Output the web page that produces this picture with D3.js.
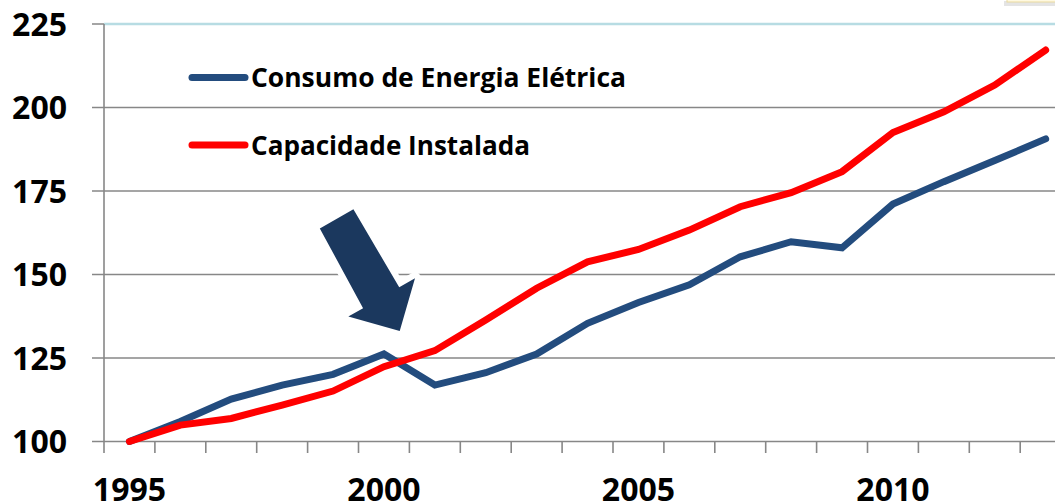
<!DOCTYPE html>
<html>
<head>
<meta charset="utf-8">
<script src="https://cdn.jsdelivr.net/npm/d3@7"></script>
<style>
  body { margin: 0; background: #fff; }
  svg { display: block; font-family: "Open Sans", sans-serif; font-weight: bold; }
</style>
</head>
<body>
<svg id="chart" width="1055" height="503"></svg>
<script>
var years = d3.range(1995, 2014)
var consumo = [100, 106, 112.7, 116.9, 120.1, 126.2, 116.9, 120.6, 126.2, 135.4, 141.6, 146.9, 155.3, 159.8, 158.0, 171.1, 177.8, 184.1, 190.6]
var capacidade = [100, 104.9, 106.9, 110.9, 115.1, 122.4, 127.2, 136.4, 145.9, 153.8, 157.5, 163.3, 170.3, 174.5, 180.8, 192.5, 198.7, 206.7, 217.2]
var yTicks = [100, 125, 150, 175, 200, 225]
var xLabels = [1995, 2000, 2005, 2010]
var seriesNames = ["Consumo de Energia Elétrica", "Capacidade Instalada"]
// arrow outline, in (year, value) units
var arrowPts = [[1998.74, 163.8], [1999.40, 169.5], [2000.30, 146.2], [2000.61, 148.9],
                [2000.31, 133.1], [1999.30, 137.4], [1999.59, 139.9]]

var dimensions = {
    width: 1055,
    height: 503,
    left: 104,
    step: 50.9
}

var svg = d3.select("#chart")

var xScale = d3.scaleLinear()
    .domain([1994.5, 2013.5])
    .range([dimensions.left, dimensions.left + 19 * dimensions.step])

var yScale = d3.scaleLinear()
    .domain([100, 225])
    .range([441.5, 24])

// small cropped box in the corner
svg.append("rect").attr("x", 1004).attr("y", 1).attr("width", 60).attr("height", 5)
    .attr("fill", "#e4e4e4")
svg.append("rect").attr("x", 1007).attr("y", -6).attr("width", 60).attr("height", 8)
    .attr("fill", "#fff9e0").attr("stroke", "#e8d9a0").attr("stroke-width", 1)

// gridlines + left ticks
svg.append("g")
    .selectAll("line")
    .data(yTicks)
    .enter()
    .append("line")
    .attr("x1", 92)
    .attr("x2", dimensions.width)
    .attr("y1", d => yScale(d))
    .attr("y2", d => yScale(d))
    .attr("stroke", "#878787")
    .attr("stroke-width", 1.6)

// light blue plot border on top
svg.append("line")
    .attr("x1", dimensions.left).attr("x2", dimensions.width)
    .attr("y1", yScale(225)).attr("y2", yScale(225))
    .attr("stroke", "#b7dce3").attr("stroke-width", 2.6)

// y axis line
svg.append("line")
    .attr("x1", dimensions.left).attr("x2", dimensions.left)
    .attr("y1", yScale(225)).attr("y2", 453)
    .attr("stroke", "#878787").attr("stroke-width", 1.6)

// x ticks at category boundaries
svg.append("g")
    .selectAll("line")
    .data(years.slice(1).concat([2014]))
    .enter()
    .append("line")
    .attr("x1", d => xScale(d - 0.5))
    .attr("x2", d => xScale(d - 0.5))
    .attr("y1", yScale(100))
    .attr("y2", 453)
    .attr("stroke", "#878787")
    .attr("stroke-width", 1.6)

// y labels
svg.append("g")
    .selectAll("text")
    .data(yTicks)
    .enter()
    .append("text")
    .attr("x", 67)
    .attr("y", d => yScale(d) + 11.5)
    .attr("text-anchor", "end")
    .attr("font-size", 32)
    .attr("fill", "#000")
    .text(d => d)

// x labels
svg.append("g")
    .selectAll("text")
    .data(xLabels)
    .enter()
    .append("text")
    .attr("x", d => xScale(d))
    .attr("y", 501)
    .attr("text-anchor", "middle")
    .attr("font-size", 32)
    .attr("fill", "#000")
    .text(d => d)

var line = d3.line()
    .x((d, i) => xScale(years[i]))
    .y(d => yScale(d))

svg.append("path")
    .datum(consumo)
    .attr("d", line)
    .attr("fill", "none")
    .attr("stroke", "#234c7e")
    .attr("stroke-width", 7)
    .attr("stroke-linecap", "round")

svg.append("path")
    .datum(capacidade)
    .attr("d", line)
    .attr("fill", "none")
    .attr("stroke", "#ff0000")
    .attr("stroke-width", 7)
    .attr("stroke-linecap", "round")

// legend
var legendColors = ["#234c7e", "#ff0000"]
var legendY = [77.5, 145]
var legendWidth = [375, 279]
var legend = svg.append("g")
seriesNames.forEach(function (name, i) {
    legend.append("line")
        .attr("x1", 192).attr("x2", 245)
        .attr("y1", legendY[i]).attr("y2", legendY[i])
        .attr("stroke", legendColors[i])
        .attr("stroke-width", 7)
        .attr("stroke-linecap", "round")
    legend.append("text")
        .attr("x", 251)
        .attr("y", legendY[i] + 9.5)
        .attr("font-size", 27)
        .attr("textLength", legendWidth[i])
        .attr("lengthAdjust", "spacingAndGlyphs")
        .attr("fill", "#000")
        .text(name)
})

// arrow
var arrowPath = "M" + arrowPts.map(p => xScale(p[0]) + "," + yScale(p[1])).join("L") + "Z"
svg.append("path")
    .attr("d", arrowPath)
    .attr("fill", "#fff")
    .attr("stroke", "#fff")
    .attr("stroke-width", 12)
    .attr("stroke-linejoin", "round")
svg.append("path")
    .attr("d", arrowPath)
    .attr("fill", "#1b385e")
</script>
</body>
</html>
